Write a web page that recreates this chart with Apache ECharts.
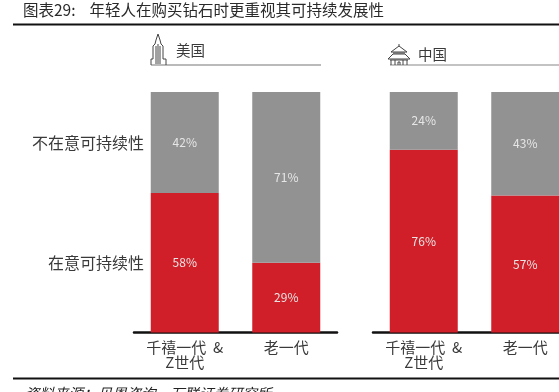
<!DOCTYPE html>
<html><head><meta charset="utf-8">
<script src="https://cdn.jsdelivr.net/npm/echarts@6/dist/echarts.min.js"></script>
<style>html,body{margin:0;padding:0;background:#fff;overflow:hidden}#c{width:559px;height:392px}</style>
</head><body><div id="c"></div>
<script>
const categories = ['千禧一代  &\nZ世代', '老一代'];
const usCare = [58, 29];
const usNotCare = [42, 71];
const cnCare = [76, 57];
const cnNotCare = [24, 43];
const rowLabels = ['不在意可持续性', '在意可持续性'];
const titleText = '图表29:    年轻人在购买钻石时更重视其可持续发展性';
const sourceText = '资料来源：贝恩咨询，万联证券研究所';
const F = '"Noto Sans CJK SC","Noto Sans",sans-serif';
const RED = '#d01f28', GREY = '#929292', INK = '#3a3a3a';

function bar(name, data, color, idx) {
  return {
    name, type: 'bar', stack: 's' + idx, xAxisIndex: idx, yAxisIndex: idx, data, barWidth: 68,
    itemStyle: { color },
    label: { show: true, position: 'inside', color: '#e6e6e6', fontSize: 12, fontFamily: F, formatter: '{c}%' },
    silent: true
  };
}
function xAxis(i) {
  return {
    type: 'category', gridIndex: i, data: categories,
    axisTick: { show: false },
    axisLine: { lineStyle: { color: '#111', width: 2.5 } },
    axisLabel: { color: INK, fontSize: 15, fontFamily: F, lineHeight: 15, margin: 7, interval: 0, hideOverlap: false }
  };
}
function yAxis(i) {
  return { type: 'value', gridIndex: i, min: 0, max: 100, show: false };
}
const txt = (x, y, text, size, extra) => ({
  type: 'text', x, y, silent: true,
  style: Object.assign({ text, fill: INK, font: size + 'px ' + F, textVerticalAlign: 'middle' }, extra || {})
});
const ln = (x1, y1, x2, y2, color, w) => ({
  type: 'line', silent: true, shape: { x1, y1, x2, y2 }, style: { stroke: color, lineWidth: w }
});
const pl = (points, w) => ({
  type: 'polyline', silent: true, shape: { points }, style: { stroke: '#444', lineWidth: w || 1, fill: null }
});

const graphic = [
  txt(23, 10, titleText, 15.5, { fill: '#2a2a2a' }),
  ln(13, 24.5, 559, 24.5, '#111', 2),
  ln(13, 378.5, 559, 378.5, '#111', 2),
  txt(25, 393, sourceText, 14.5, { font: 'italic 14.5px ' + F, fill: '#222' }),
  txt(144, 143, rowLabels[0], 16, { textAlign: 'right' }),
  txt(144, 263, rowLabels[1], 16, { textAlign: 'right' }),
  txt(176, 50, '美国', 14.5),
  txt(418, 54, '中国', 14.5),
  ln(151, 65, 321, 65, '#777', 1.2),
  ln(390, 65, 559, 65, '#888', 1.2),
  // skyscraper icon
  pl([[151,65],[151,59],[153,59],[153,46],[155,44],[156,40],[158,34],[160,40],[161,44],[163,46],[163,59],[166,59],[166,65]]),
  pl([[156,46],[156,64]]), pl([[158,44],[158,64]]), pl([[160,46],[160,64]]),
  // temple icon
  pl([[391,52],[399,46],[407,52],[391,52]]),
  pl([[399,46],[399,44]]),
  pl([[393,53],[405,53]]),
  pl([[388,59],[393,54],[405,54],[410,59],[388,59]]),
  pl([[390,60],[408,60]]),
  pl([[391,60],[391,65]]), pl([[395,60],[395,65]]), pl([[403,60],[403,65]]), pl([[407,60],[407,65]]),
  pl([[398,65],[398,62],[400,62],[400,65]])
];

const chart = echarts.init(document.getElementById('c'), null, { renderer: 'canvas' });
chart.setOption({
  animation: false,
  backgroundColor: '#fff',
  grid: [
    { left: 134, top: 92, width: 203, height: 240.5, outerBoundsMode: 'none' },
    { left: 373, top: 92, width: 203, height: 240.5, outerBoundsMode: 'none' }
  ],
  xAxis: [xAxis(0), xAxis(1)],
  yAxis: [yAxis(0), yAxis(1)],
  series: [
    bar('在意可持续性', usCare, RED, 0),
    bar('不在意可持续性', usNotCare, GREY, 0),
    bar('在意可持续性', cnCare, RED, 1),
    bar('不在意可持续性', cnNotCare, GREY, 1)
  ],
  graphic
});
</script></body></html>
